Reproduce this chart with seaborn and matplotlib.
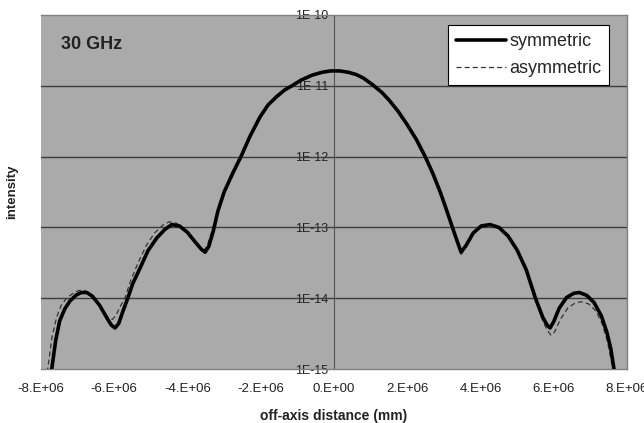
import numpy as np
import matplotlib
matplotlib.use("Agg")
import matplotlib.pyplot as plt
import seaborn as sns
from matplotlib.ticker import FixedLocator, FuncFormatter, NullLocator

# off-axis distance in units of 1E+06 mm, intensity as log10 exponent
sym_x = [-7.72, -7.6, -7.49, -7.35, -7.21, -7.05, -6.9, -6.75, -6.6, -6.4, -6.2, -6.08, -5.98,
         -5.88, -5.76, -5.63, -5.5, -5.3, -5.08, -4.84, -4.62, -4.43, -4.22, -4.0, -3.8, -3.62,
         -3.52, -3.42, -3.3, -3.17, -3.0, -2.76, -2.54, -2.3, -2.02, -1.8, -1.56, -1.35, -1.15,
         -0.9, -0.6, -0.33, -0.1, 0.15, 0.4, 0.6, 0.8, 1.04, 1.3, 1.5, 1.75, 2.0, 2.25, 2.49,
         2.7, 2.9, 3.05, 3.2, 3.38, 3.47, 3.6, 3.8, 4.02, 4.26, 4.5, 4.75, 5.0, 5.25, 5.5, 5.7,
         5.82, 5.9, 6.0, 6.15, 6.35, 6.55, 6.7, 6.9, 7.1, 7.3, 7.45, 7.56, 7.66]
sym_log = [-15.05, -14.6, -14.32, -14.15, -14.04, -13.96, -13.92, -13.92, -13.97, -14.1, -14.28,
           -14.38, -14.42, -14.36, -14.18, -14.0, -13.8, -13.58, -13.33, -13.15, -13.03, -12.96,
           -12.98, -13.07, -13.2, -13.31, -13.35, -13.27, -13.06, -12.77, -12.5, -12.23, -12.0,
           -11.72, -11.44, -11.27, -11.15, -11.06, -11.0, -10.92, -10.85, -10.81, -10.79,
           -10.79, -10.81, -10.84, -10.89, -10.98, -11.09, -11.2, -11.36, -11.55, -11.76, -12.0,
           -12.24, -12.5, -12.72, -12.95, -13.22, -13.35, -13.26, -13.08, -12.98, -12.96, -13.0,
           -13.12, -13.32, -13.6, -14.0, -14.27, -14.38, -14.42, -14.33, -14.14, -13.99, -13.93,
           -13.92, -13.96, -14.06, -14.25, -14.48, -14.72, -15.05]

asym_x = [-7.83, -7.7, -7.58, -7.45, -7.3, -7.1, -6.95, -6.82, -6.65, -6.45, -6.28, -6.15,
          -6.05, -5.95, -5.84, -5.71, -5.55, -5.35, -5.12, -4.9, -4.68, -4.5, -4.3, -4.08,
          -3.85, -3.65, -3.55, -3.45, -3.32, -3.18, -3.0, -2.76, -2.54, -2.3, -2.02, -1.8,
          -1.56, -1.35, -1.15, -0.9, -0.6, -0.33, -0.1, 0.15, 0.4, 0.6, 0.8, 1.04, 1.3, 1.5,
          1.75, 2.0, 2.25, 2.49, 2.7, 2.9, 3.05, 3.2, 3.38, 3.47, 3.6, 3.8, 4.02, 4.26, 4.5,
          4.75, 5.0, 5.25, 5.5, 5.7, 5.82, 5.92, 6.02, 6.18, 6.38, 6.58, 6.75, 6.95, 7.15, 7.32,
          7.46, 7.56, 7.64]
asym_log = [-15.05, -14.55, -14.28, -14.1, -14.0, -13.92, -13.89, -13.89, -13.94, -14.06, -14.2,
            -14.28, -14.3, -14.24, -14.12, -14.0, -13.75, -13.5, -13.25, -13.08, -12.97, -12.92,
            -12.94, -13.04, -13.18, -13.3, -13.33, -13.24, -13.03, -12.75, -12.48, -12.2, -11.98,
            -11.7, -11.42, -11.26, -11.14, -11.06, -11.0, -10.92, -10.85, -10.81, -10.79, -10.79,
            -10.81, -10.84, -10.89, -10.98, -11.09, -11.2, -11.36, -11.55, -11.76, -12.0, -12.24,
            -12.5, -12.72, -12.95, -13.24, -13.38, -13.28, -13.1, -12.99, -12.96, -13.0, -13.12,
            -13.33, -13.62, -14.03, -14.32, -14.45, -14.52, -14.48, -14.3, -14.14, -14.07,
            -14.05, -14.08, -14.18, -14.36, -14.6, -14.85, -15.05]

x_ticks = [-8, -6, -4, -2, 0, 2, 4, 6, 8]
y_ticks = [-15, -14, -13, -12, -11, -10]

sns.set_style("white")
plt.rcParams['font.family'] = ['Liberation Sans', 'DejaVu Sans']

fig = plt.figure(figsize=(6.44, 4.23), dpi=100)
ax = fig.add_axes([41 / 644, 1 - 369 / 423, 586 / 644, 354 / 423])
ax.set_facecolor("#aaaaaa")

ax.set_yscale("log")
ax.set_xlim(-8e6, 8e6)
ax.set_ylim(1e-15, 1e-10)

for e in y_ticks[1:-1]:
    ax.axhline(10.0 ** e, color="#3c3c3c", lw=1.0, zorder=1)

sns.lineplot(x=np.array(sym_x) * 1e6, y=10.0 ** np.array(sym_log), ax=ax, color="black",
             lw=2.6, sort=False, estimator=None, label="symmetric", zorder=4)
sns.lineplot(x=np.array(asym_x) * 1e6, y=10.0 ** np.array(asym_log), ax=ax, color="#333333",
             lw=0.9, ls=(0, (4, 2.5)), sort=False, estimator=None, label="asymmetric", zorder=3)

# y axis crosses at x = 0
ax.spines["left"].set_position(("data", 0))
ax.spines["left"].set_color("#555555")
ax.spines["left"].set_zorder(2)
for s in ["top", "right", "bottom"]:
    ax.spines[s].set_color("#808080")
    ax.spines[s].set_linewidth(1.0)

ax.xaxis.set_major_locator(FixedLocator([v * 1e6 for v in x_ticks]))
ax.xaxis.set_major_formatter(FuncFormatter(
    lambda v, p: "%d.E%s" % (round(v / 1e6), "+00" if v == 0 else "+06")))
ax.yaxis.set_major_locator(FixedLocator([10.0 ** e for e in y_ticks]))
ax.yaxis.set_minor_locator(NullLocator())
ax.yaxis.set_major_formatter(FuncFormatter(lambda v, p: "1E%d" % round(np.log10(v))))

ax.tick_params(axis="x", direction="inout", length=4, width=1, color="#555555",
               labelsize=9.5, labelcolor="#222222", pad=8)
ax.tick_params(axis="y", direction="out", length=3, width=1, color="#555555",
               labelsize=9, labelcolor="#222222", pad=1)

ax.set_xlabel("off-axis distance (mm)", fontsize=10, fontweight="bold", labelpad=10,
              color="#222222")
ax.text(-0.05, 0.5, "intensity", transform=ax.transAxes, rotation=90, fontsize=9.5,
        fontweight="bold", ha="center", va="center", color="#222222")

ax.text(0.034, 0.918, "30 GHz", transform=ax.transAxes, fontsize=13, fontweight="bold",
        ha="left", va="center", color="#222222")

leg = ax.legend(loc="upper right", bbox_to_anchor=(0.97, 0.972), fontsize=13, frameon=True,
                fancybox=False, edgecolor="black", framealpha=1, handlelength=2.8,
                handletextpad=0.15, borderpad=0.45, labelspacing=0.55, borderaxespad=0)
leg.get_frame().set_linewidth(0.8)

fig.savefig("out.png", dpi=100, facecolor="white")
